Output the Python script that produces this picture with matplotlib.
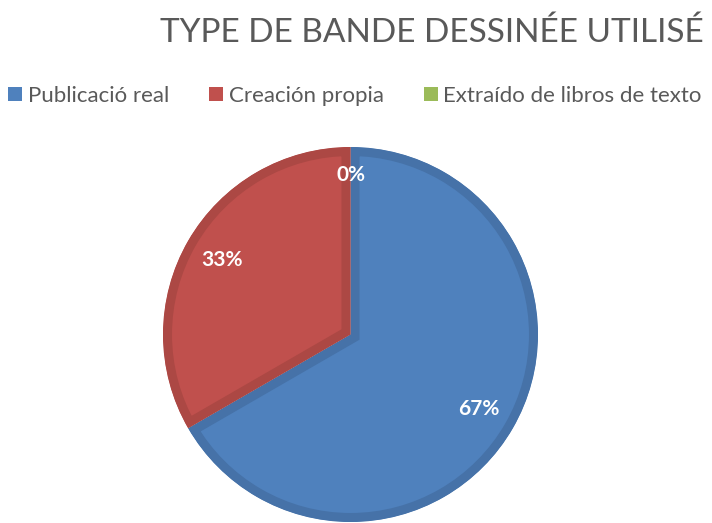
import matplotlib.pyplot as plt
from matplotlib.patches import Patch

# data
categories = ['Publicació real', 'Creación propia', 'Extraído de libros de texto']
counts = [2, 1, 0]
colors = ['#4F81BD', '#C0504D', '#9BBB59']
edge_colors = ['#4672A8', '#AC4844', '#8BA84F']
title = 'TYPE DE BANDE DESSINÉE UTILISÉ'

plt.rcParams['font.family'] = ['Lato', 'DejaVu Sans']

fig = plt.figure(figsize=(7.12, 5.23), dpi=100)
ax = fig.add_axes([163 / 712, 1 / 523, 375 / 712, 375 / 523])

wedges, texts, autotexts = ax.pie(
    counts, colors=colors, startangle=90, counterclock=False,
    autopct='%1.0f%%', pctdistance=0.79, radius=1,
    textprops=dict(color='white', fontsize=15, fontweight='bold'))

# darker border drawn on the inside of every slice
for w, ec in zip(wedges, edge_colors):
    w.set_edgecolor(ec)
    w.set_linewidth(13)
    w.set_clip_on(True)
    w.set_clip_path(w)

# the empty slice's label sits a bit further out
x, y = autotexts[2].get_position()
autotexts[2].set_position((x * 0.85 / 0.79, y * 0.85 / 0.79))

ax.set_xlim(-1, 1)
ax.set_ylim(-1, 1)
ax.set_aspect('equal')

fig.text(704 / 712, 1 - 42 / 523, title, ha='right', va='baseline',
         fontsize=24, color='#595959')

handles = [Patch(facecolor=c, edgecolor='none') for c in colors]
fig.legend(handles, categories, loc='center', bbox_to_anchor=(355 / 712, 1 - 96 / 523),
           ncol=3, frameon=False, fontsize=16, labelcolor='#595959',
           handlelength=0.63, handleheight=0.63, handletextpad=0.25,
           columnspacing=1.8, borderpad=0)

fig.savefig('out.png', dpi=100)
